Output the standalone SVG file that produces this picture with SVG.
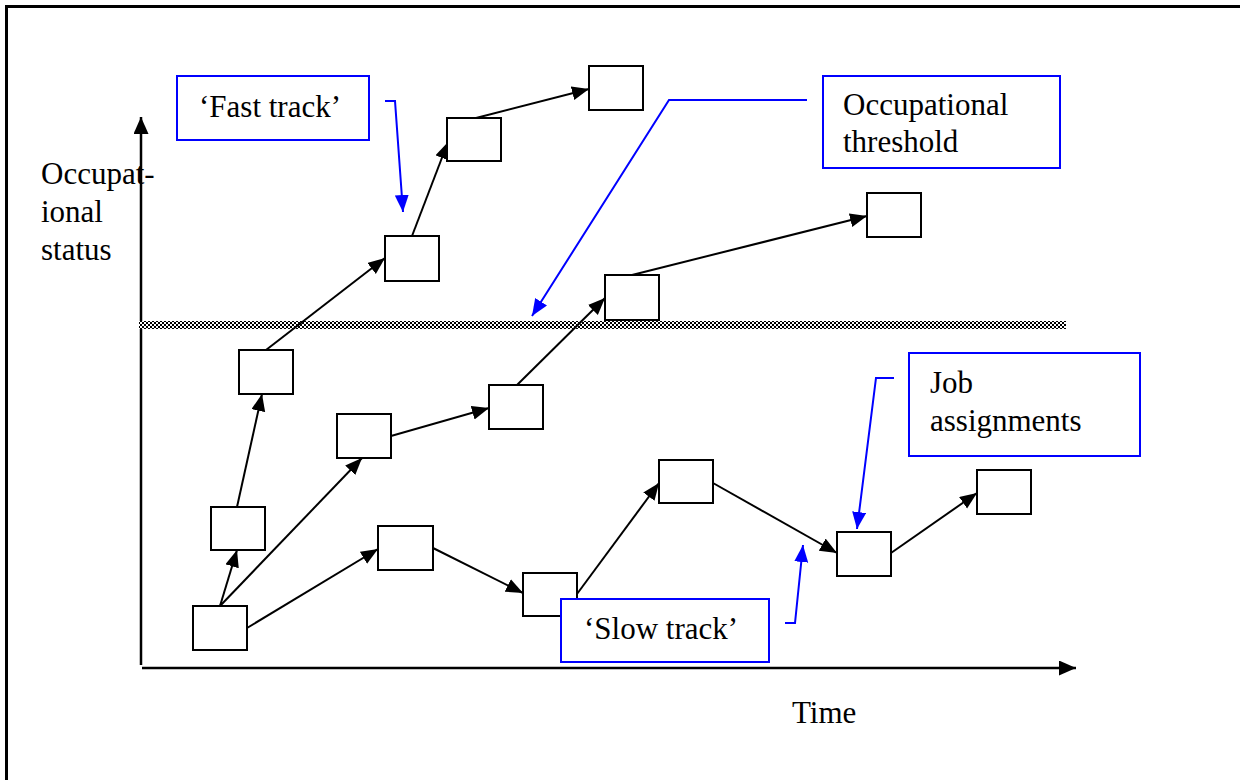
<svg xmlns="http://www.w3.org/2000/svg" width="1240" height="780" viewBox="0 0 1240 780">
<style>
.box{fill:#fff;stroke:#000;stroke-width:2}
.note{fill:#fff;stroke:#0000ff;stroke-width:2}
.con{fill:none;stroke:#000;stroke-width:2;marker-end:url(#ah)}
.leadA{fill:none;stroke:#0000ff;stroke-width:2;marker-end:url(#bh)}
.axis{fill:none;stroke:#000;stroke-width:2.5}
.t{font-family:'Liberation Serif','Tinos','Times New Roman','DejaVu Serif',serif;font-size:31px;fill:#000}
</style>
<defs>
<marker id="ah" markerUnits="userSpaceOnUse" markerWidth="18" markerHeight="16" refX="17" refY="7" orient="auto"><path d="M0,0 L17,7 L0,14 z" fill="#000"/></marker>
<marker id="bh" markerUnits="userSpaceOnUse" markerWidth="18" markerHeight="16" refX="17" refY="7" orient="auto"><path d="M0,0 L17,7 L0,14 z" fill="#0000ff"/></marker>
<marker id="axh" markerUnits="userSpaceOnUse" markerWidth="18" markerHeight="16" refX="17" refY="7.5" orient="auto"><path d="M0,0 L17,7.5 L0,15 z" fill="#000"/></marker>
<pattern id="chk" patternUnits="userSpaceOnUse" width="4" height="4"><rect width="4" height="4" fill="#fff"/><rect width="2" height="2" fill="#000"/><rect x="2" y="2" width="2" height="2" fill="#000"/></pattern>
</defs>
<rect width="1240" height="780" fill="#fff"/>
<path d="M6.5,780 V6.5 H1240" fill="none" stroke="#000" stroke-width="3"/>
<g id="axes">
<path class="axis" d="M141,665 V117" marker-end="url(#axh)"/>
<path class="axis" d="M142,668 H1076" marker-end="url(#axh)"/>
<text class="t" font-family="Liberation Serif, Tinos, Times New Roman, serif" x="41" y="184">Occupat-</text>
<text class="t" font-family="Liberation Serif, Tinos, Times New Roman, serif" x="41" y="222">ional</text>
<text class="t" font-family="Liberation Serif, Tinos, Times New Roman, serif" x="41" y="260">status</text>
<text class="t" font-family="Liberation Serif, Tinos, Times New Roman, serif" x="792" y="723">Time</text>
</g>
<g id="threshold"><rect x="139" y="321" width="927" height="8" fill="url(#chk)"/></g>
<g id="connectors">
<path class="con" d="M220,606 L237,550"/>
<path class="con" d="M237,507 L262,394"/>
<path class="con" d="M266,350 L385,258"/>
<path class="con" d="M412,236 L448,142"/>
<path class="con" d="M476,118 L589,89"/>
<path class="con" d="M220,606 L362,458"/>
<path class="con" d="M391,436 L489,408"/>
<path class="con" d="M517,385 L605,298"/>
<path class="con" d="M632,275 L867,216"/>
<path class="con" d="M247,628 L378,549"/>
<path class="con" d="M433,548 L523,593"/>
<path class="con" d="M577,594 L659,483"/>
<path class="con" d="M713,483 L837,553"/>
<path class="con" d="M891,553 L977,493"/>
<path class="leadA" d="M385,101 H395 L403,212"/>
<path class="leadA" d="M807,100 H669 L532,316"/>
<path class="leadA" d="M894,378 H876 L857,529"/>
<path class="leadA" d="M785,623 H795 L803,545"/>
</g>
<g id="n1"><rect class="box" x="193" y="606" width="54" height="44"/></g>
<g id="n2"><rect class="box" x="211" y="507" width="54" height="43"/></g>
<g id="n3"><rect class="box" x="239" y="350" width="54" height="44"/></g>
<g id="n4"><rect class="box" x="385" y="236" width="54" height="45"/></g>
<g id="n5"><rect class="box" x="447" y="118" width="54" height="43"/></g>
<g id="n6"><rect class="box" x="589" y="66" width="54" height="44"/></g>
<g id="n7"><rect class="box" x="337" y="414" width="54" height="44"/></g>
<g id="n8"><rect class="box" x="489" y="385" width="54" height="44"/></g>
<g id="n9"><rect class="box" x="605" y="275" width="54" height="45"/></g>
<g id="n10"><rect class="box" x="867" y="193" width="54" height="44"/></g>
<g id="n11"><rect class="box" x="378" y="526" width="55" height="44"/></g>
<g id="n12"><rect class="box" x="523" y="573" width="54" height="43"/></g>
<g id="n13"><rect class="box" x="659" y="460" width="54" height="43"/></g>
<g id="n14"><rect class="box" x="837" y="532" width="54" height="44"/></g>
<g id="n15"><rect class="box" x="977" y="470" width="54" height="44"/></g>
<g id="fast"><rect class="note" x="177" y="76" width="192" height="64"/><text class="t" font-family="Liberation Serif, Tinos, Times New Roman, serif" x="199" y="117">‘Fast track’</text></g>
<g id="thresh"><rect class="note" x="823" y="76" width="237" height="92"/><text class="t" font-family="Liberation Serif, Tinos, Times New Roman, serif" x="843" y="115">Occupational</text><text class="t" font-family="Liberation Serif, Tinos, Times New Roman, serif" x="843" y="152">threshold</text></g>
<g id="job"><rect class="note" x="909" y="353" width="231" height="103"/><text class="t" font-family="Liberation Serif, Tinos, Times New Roman, serif" x="930" y="393">Job</text><text class="t" font-family="Liberation Serif, Tinos, Times New Roman, serif" x="930" y="431">assignments</text></g>
<g id="slow"><rect class="note" x="561" y="599" width="208" height="63"/><text class="t" font-family="Liberation Serif, Tinos, Times New Roman, serif" x="584" y="639">‘Slow track’</text></g>
</svg>
